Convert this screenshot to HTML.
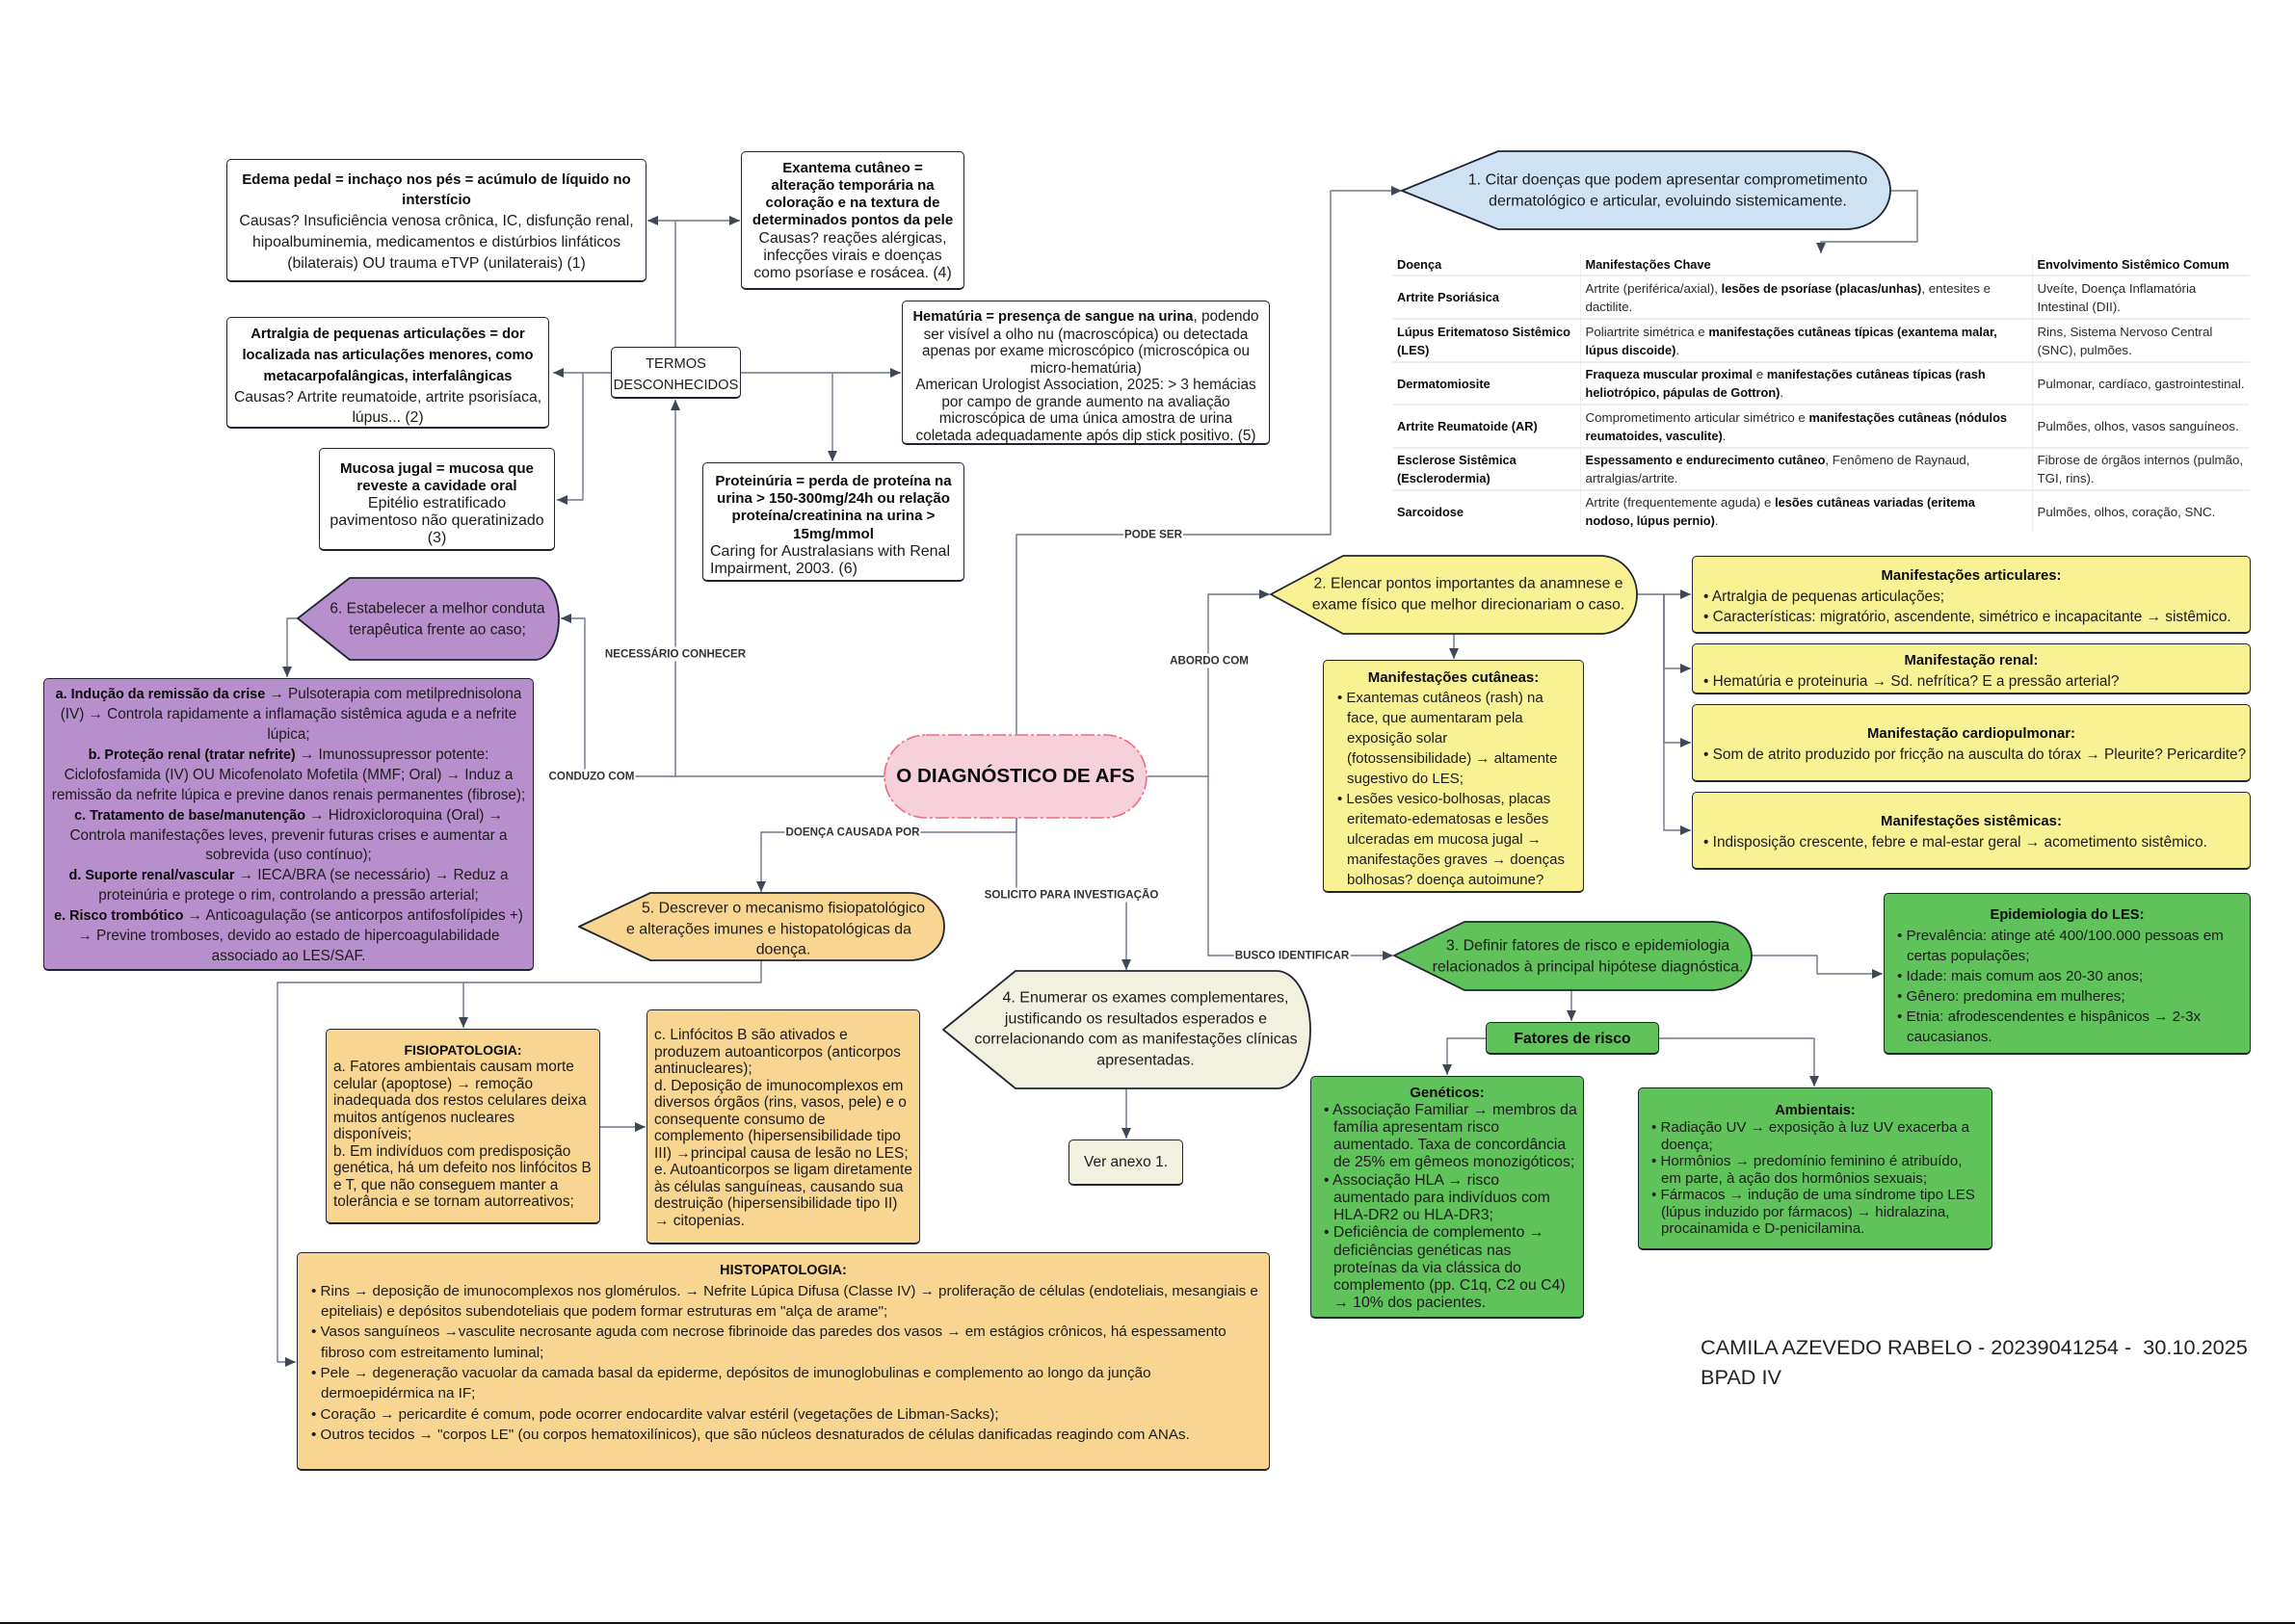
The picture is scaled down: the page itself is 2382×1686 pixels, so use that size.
<!DOCTYPE html>
<html lang="pt"><head><meta charset="utf-8"><title>O diagnóstico de AFS</title>
<style>
html,body{margin:0;padding:0;background:#fff}
#p{position:relative;width:2382px;height:1686px;overflow:hidden;background:#fff;font-family:"Liberation Sans",sans-serif;color:#1c1c1c}
svg{position:absolute;left:0;top:0}
.b{position:absolute;box-sizing:border-box;border:1.5px solid #1f2430;border-bottom-width:2.5px;border-radius:5px;display:flex;flex-direction:column;justify-content:center;white-space:nowrap;font-size:15.8px;line-height:21.7px;text-align:center;background:#fff}
.t{position:absolute;white-space:nowrap;text-align:center;transform:translate(-50%,-50%);font-size:16px;line-height:21.7px}
.t span{position:relative}
.l{position:absolute;white-space:nowrap;transform:translate(-50%,-50%);background:#fff;font-weight:bold;font-size:11.6px;line-height:15px;color:#333;padding:0 1px}
.y{background:#f9f295}.o{background:#f8d591}.g{background:#5fc25a}.v{background:#b78fcc}.e{background:#f2f1df}
.li{text-align:left;padding-left:10px;text-indent:-10px}
.ll{text-align:left}
b{font-weight:bold;color:#0c0c0c}
table{position:absolute;left:1445px;top:263px;width:890px;border-collapse:collapse;table-layout:fixed;font-size:13.3px;line-height:19px;color:#2a2a2a}
td{padding:0 0 0 5px;border-bottom:2.5px solid #eee;border-right:1px solid #eee;white-space:nowrap;vertical-align:middle}
td b{font-size:12.8px}
td:last-child{border-right:none}
tr:last-child td{border-bottom:none}
</style></head><body><div id="p">
<svg width="2382" height="1686" viewBox="0 0 2382 1686">
<defs><marker id="a" markerUnits="userSpaceOnUse" markerWidth="12" markerHeight="12" refX="11" refY="6" orient="auto"><path d="M0 1L11 6L0 11Z" fill="#3f4656"/></marker></defs>
<g fill="none" stroke="#6f7686" stroke-width="1.4" stroke-linejoin="round">
<path d="M1055 763V555H1381V198H1455" marker-end="url(#a)"/>
<path d="M1961 198H1990V251H1890V263" marker-end="url(#a)"/>
<path d="M1191 806H1254V617H1318" marker-end="url(#a)"/>
<path d="M1254 806V992H1446" marker-end="url(#a)"/>
<path d="M1699 617H1755" marker-end="url(#a)"/>
<path d="M1727 617V694H1755" marker-end="url(#a)"/>
<path d="M1727 617V771H1755" marker-end="url(#a)"/>
<path d="M1727 617V862H1755" marker-end="url(#a)"/>
<path d="M1509 658V684" marker-end="url(#a)"/>
<path d="M1818 992H1886V1011H1954" marker-end="url(#a)"/>
<path d="M1631 1028V1060" marker-end="url(#a)"/>
<path d="M1542 1078H1502V1116" marker-end="url(#a)"/>
<path d="M1722 1078H1883V1128" marker-end="url(#a)"/>
<path d="M1055 849V929H1169V1007" marker-end="url(#a)"/>
<path d="M1169 1130V1182" marker-end="url(#a)"/>
<path d="M1055 849V864H790V926" marker-end="url(#a)"/>
<path d="M790 997V1020H288V1414H307" marker-end="url(#a)"/>
<path d="M481 1020V1067" marker-end="url(#a)"/>
<path d="M623 1170H670" marker-end="url(#a)"/>
<path d="M918 806H607V642H582" marker-end="url(#a)"/>
<path d="M701 806V415" marker-end="url(#a)"/>
<path d="M701 360V229H672" marker-end="url(#a)"/>
<path d="M701 229H768" marker-end="url(#a)"/>
<path d="M634 387H574" marker-end="url(#a)"/>
<path d="M605 387V519H578" marker-end="url(#a)"/>
<path d="M769 387H935" marker-end="url(#a)"/>
<path d="M864 387V479" marker-end="url(#a)"/>
<path d="M309 642H298V703" marker-end="url(#a)"/>
</g>
<g stroke="#1f2430" stroke-width="1.8" stroke-linejoin="round">
<path d="M1455 198L1555 157H1916A46 40.5 0 0 1 1916 238H1555Z" fill="#cfe2f3"/>
<path d="M1319 617L1394 577H1661A38 40.5 0 0 1 1661 658H1394Z" fill="#f9f295"/>
<path d="M1447 992L1520 957H1776A42 35.5 0 0 1 1776 1028H1520Z" fill="#5fc25a"/>
<path d="M979 1069L1054 1008H1325A35 61 0 0 1 1325 1130H1054Z" fill="#f2f1df"/>
<path d="M601 962L675 927H944A36 35 0 0 1 944 997H675Z" fill="#f8d591"/>
<path d="M309 642L363 600H555A25 42.5 0 0 1 555 685H363Z" fill="#b78fcc"/>
</g>
<rect x="918" y="763" width="272" height="86" rx="43" fill="#f6d0da" stroke="#ee6a7e" stroke-width="1.6" stroke-dasharray="14 3 3 3"/>
<rect x="0" y="1684" width="2382" height="2" fill="#111"/>
</svg>

<div class="b" style="left:235px;top:165px;width:436px;height:128px;padding-top:3px"><div><b style="font-size:15px">Edema pedal = inchaço nos pés = acúmulo de líquido no<br>interstício</b><br>Causas? Insuficiência venosa crônica, IC, disfunção renal,<br>hipoalbuminemia, medicamentos e distúrbios linfáticos<br>(bilaterais) OU trauma eTVP (unilaterais) (1)</div></div>
<div class="b" style="left:769px;top:157px;width:232px;height:144px;line-height:18.2px;padding-top:2px"><div><b style="font-size:15px">Exantema cutâneo =<br>alteração temporária na<br>coloração e na textura de<br>determinados pontos da pele</b><br>Causas? reações alérgicas,<br>infecções virais e doenças<br>como psoríase e rosácea. (4)</div></div>
<div class="b" style="left:235px;top:329px;width:335px;height:116px;padding-top:6px;line-height:21px;font-size:15.7px"><div><b style="font-size:14.7px">Artralgia de pequenas articulações = dor<br>localizada nas articulações menores, como<br>metacarpofalângicas, interfalângicas</b><br>Causas? Artrite reumatoide, artrite psorisíaca,<br>lúpus... (2)</div></div>
<div class="b" style="left:634px;top:360px;width:135px;height:54px;font-size:14.7px;line-height:22.3px;padding-top:5px"><div>TERMOS<br>DESCONHECIDOS</div></div>
<div class="b" style="left:936px;top:312px;width:382px;height:150px;line-height:17.5px;font-size:15.3px;padding-top:8px"><div><b style="font-size:14.7px">Hematúria = presença de sangue na urina</b>, podendo<br>ser visível a olho nu (macroscópica) ou detectada<br>apenas por exame microscópico (microscópica ou<br>micro-hematúria)<br>American Urologist Association, 2025: &gt; 3 hemácias<br>por campo de grande aumento na avaliação<br>microscópica de uma única amostra de urina<br>coletada adequadamente após dip stick positivo. (5)</div></div>
<div class="b" style="left:331px;top:465px;width:245px;height:107px;line-height:18px;font-size:16px;padding-top:10px"><div><b style="font-size:15.1px">Mucosa jugal = mucosa que<br>reveste a cavidade oral</b><br>Epitélio estratificado<br>pavimentoso não queratinizado<br>(3)</div></div>
<div class="b" style="left:729px;top:480px;width:272px;height:124px;line-height:18.2px;font-size:16px;padding-top:8px"><div><b style="font-size:15.1px">Proteinúria = perda de proteína na<br>urina &gt; 150-300mg/24h ou relação<br>proteína/creatinina na urina &gt;<br>15mg/mmol</b><div class="ll" style="padding-left:7px">Caring for Australasians with Renal<br>Impairment, 2003. (6)</div></div></div>

<div class="t" style="left:1731px;top:198px">1. Citar doenças que podem apresentar comprometimento<br>dermatológico e articular, evoluindo sistemicamente.</div>
<div class="t" style="left:1524px;top:617px;font-size:15.7px">2. Elencar pontos importantes da anamnese e<br>exame físico que melhor direcionariam o caso.</div>
<div class="t" style="left:1648px;top:993px">3. Definir fatores de risco e epidemiologia<br>relacionados à principal hipótese diagnóstica.</div>
<div class="t" style="left:1183px;top:1069px"><span style="left:6px">4. Enumerar os exames complementares,</span><br><span style="left:-4px">justificando os resultados esperados e</span><br><span style="left:-4px">correlacionando com as manifestações clínicas</span><br><span style="left:6px">apresentadas.</span></div>
<div class="t" style="left:813px;top:965px;font-size:15.9px">5. Descrever o mecanismo fisiopatológico<br><span style="left:-15px">e alterações imunes e histopatológicas da</span><br>doença.</div>
<div class="t" style="left:454px;top:643px;font-size:15.5px">6. Estabelecer a melhor conduta<br>terapêutica frente ao caso;</div>
<div class="t" style="left:1054px;top:806px;font-size:20.6px;font-weight:bold;color:#0c0c0c;line-height:26px">O DIAGNÓSTICO DE AFS</div>

<table><colgroup><col style="width:195px"><col style="width:469px"><col style="width:226px"></colgroup>
<tr style="height:23px"><td><b>Doença</b></td><td><b>Manifestações Chave</b></td><td><b>Envolvimento Sistêmico Comum</b></td></tr>
<tr style="height:45px"><td><b>Artrite Psoriásica</b></td><td>Artrite (periférica/axial), <b>lesões de psoríase (placas/unhas)</b>, entesites e<br>dactilite.</td><td>Uveíte, Doença Inflamatória<br>Intestinal (DII).</td></tr>
<tr style="height:45px"><td><b>Lúpus Eritematoso Sistêmico<br>(LES)</b></td><td>Poliartrite simétrica e <b>manifestações cutâneas típicas (exantema malar,<br>lúpus discoide)</b>.</td><td>Rins, Sistema Nervoso Central<br>(SNC), pulmões.</td></tr>
<tr style="height:44px"><td><b>Dermatomiosite</b></td><td><b>Fraqueza muscular proximal</b> e <b>manifestações cutâneas típicas (rash<br>heliotrópico, pápulas de Gottron)</b>.</td><td>Pulmonar, cardíaco, gastrointestinal.</td></tr>
<tr style="height:45px"><td><b>Artrite Reumatoide (AR)</b></td><td>Comprometimento articular simétrico e <b>manifestações cutâneas (nódulos<br>reumatoides, vasculite)</b>.</td><td>Pulmões, olhos, vasos sanguíneos.</td></tr>
<tr style="height:44px"><td><b>Esclerose Sistêmica<br>(Esclerodermia)</b></td><td><b>Espessamento e endurecimento cutâneo</b>, Fenômeno de Raynaud,<br>artralgias/artrite.</td><td>Fibrose de órgãos internos (pulmão,<br>TGI, rins).</td></tr>
<tr style="height:43px"><td><b>Sarcoidose</b></td><td>Artrite (frequentemente aguda) e <b>lesões cutâneas variadas (eritema<br>nodoso, lúpus pernio)</b>.</td><td>Pulmões, olhos, coração, SNC.</td></tr>
</table>

<div class="b v" style="left:45px;top:704px;width:509px;height:304px;font-size:15.3px;line-height:20.9px;padding-top:4px"><div><b style="font-size:14.4px">a. Indução da remissão da crise</b> → Pulsoterapia com metilprednisolona<br>(IV) → Controla rapidamente a inflamação sistêmica aguda e a nefrite<br>lúpica;<br><b style="font-size:14.4px">b. Proteção renal (tratar nefrite)</b> → Imunossupressor potente:<br>Ciclofosfamida (IV) OU Micofenolato Mofetila (MMF; Oral) → Induz a<br>remissão da nefrite lúpica e previne danos renais permanentes (fibrose);<br><b style="font-size:14.4px">c. Tratamento de base/manutenção</b> → Hidroxicloroquina (Oral) →<br>Controla manifestações leves, prevenir futuras crises e aumentar a<br>sobrevida (uso contínuo);<br><b style="font-size:14.4px">d. Suporte renal/vascular</b> → IECA/BRA (se necessário) → Reduz a<br>proteinúria e protege o rim, controlando a pressão arterial;<br><b style="font-size:14.4px">e. Risco trombótico</b> → Anticoagulação (se anticorpos antifosfolípides +)<br>→ Previne tromboses, devido ao estado de hipercoagulabilidade<br>associado ao LES/SAF.</div></div>

<div class="b y" style="left:1756px;top:577px;width:580px;height:81px;font-size:15.4px;line-height:21px;padding-left:11px;padding-top:3px"><div style="margin-left:-11px"><b style="font-size:14.9px">Manifestações articulares:</b></div><div class="li">• Artralgia de pequenas articulações;</div><div class="li">• Características: migratório, ascendente, simétrico e incapacitante → sistêmico.</div></div>
<div class="b y" style="left:1756px;top:668px;width:580px;height:53px;font-size:15.4px;line-height:21px;padding-left:11px;padding-top:5px"><div style="margin-left:-11px"><b style="font-size:14.9px">Manifestação renal:</b></div><div class="li">• Hematúria e proteinuria → Sd. nefrítica? E a pressão arterial?</div></div>
<div class="b y" style="left:1756px;top:731px;width:580px;height:81px;font-size:15.4px;line-height:21px;padding-left:11px;padding-top:3px"><div style="margin-left:-11px"><b style="font-size:14.9px">Manifestação cardiopulmonar:</b></div><div class="li">• Som de atrito produzido por fricção na ausculta do tórax → Pleurite? Pericardite?</div></div>
<div class="b y" style="left:1756px;top:822px;width:580px;height:81px;font-size:15.4px;line-height:21px;padding-left:11px;padding-top:3px"><div style="margin-left:-11px"><b style="font-size:14.9px">Manifestações sistêmicas:</b></div><div class="li">• Indisposição crescente, febre e mal-estar geral → acometimento sistêmico.</div></div>
<div class="b y" style="left:1373px;top:685px;width:271px;height:242px;font-size:15px;line-height:21px;padding-left:14px;padding-top:5px"><div style="margin-left:-14px"><b>Manifestações cutâneas:</b></div><div class="li">• Exantemas cutâneos (rash) na<br>face, que aumentaram pela<br>exposição solar<br>(fotossensibilidade) → altamente<br>sugestivo do LES;</div><div class="li">• Lesões vesico-bolhosas, placas<br>eritemato-edematosas e lesões<br>ulceradas em mucosa jugal →<br>manifestações graves → doenças<br>bolhosas? doença autoimune?</div></div>

<div class="b g" style="left:1955px;top:927px;width:381px;height:168px;font-size:15.2px;line-height:21px;padding-left:13px;padding-top:4px"><div style="margin-left:-13px"><b style="font-size:14.7px">Epidemiologia do LES:</b></div><div class="li">• Prevalência: atinge até 400/100.000 pessoas em<br>certas populações;</div><div class="li">• Idade: mais comum aos 20-30 anos;</div><div class="li">• Gênero: predomina em mulheres;</div><div class="li">• Etnia: afrodescendentes e hispânicos → 2-3x<br>caucasianos.</div></div>
<div class="b g" style="left:1542px;top:1061px;width:180px;height:34px;font-size:15.7px;padding-top:2px"><div><b>Fatores de risco</b></div></div>
<div class="b g" style="left:1360px;top:1117px;width:284px;height:252px;font-size:15.8px;line-height:18.2px;padding-left:13px;padding-top:3px"><div style="margin-left:-13px"><b style="font-size:15px">Genéticos:</b></div><div class="li">• Associação Familiar → membros da<br>família apresentam risco<br>aumentado. Taxa de concordância<br>de 25% em gêmeos monozigóticos;</div><div class="li">• Associação HLA → risco<br>aumentado para indivíduos com<br>HLA-DR2 ou HLA-DR3;</div><div class="li">• Deficiência de complemento →<br>deficiências genéticas nas<br>proteínas da via clássica do<br>complemento (pp. C1q, C2 ou C4)<br>→ 10% dos pacientes.</div></div>
<div class="b g" style="left:1700px;top:1129px;width:368px;height:169px;font-size:15.1px;line-height:17.5px;padding-left:13px;padding-top:2px"><div style="margin-left:-13px"><b style="font-size:14.6px">Ambientais:</b></div><div class="li">• Radiação UV → exposição à luz UV exacerba a<br>doença;</div><div class="li">• Hormônios → predomínio feminino é atribuído,<br>em parte, à ação dos hormônios sexuais;</div><div class="li">• Fármacos → indução de uma síndrome tipo LES<br>(lúpus induzido por fármacos) → hidralazina,<br>procainamida e D-penicilamina.</div></div>

<div class="b e" style="left:1109px;top:1183px;width:119px;height:48px;font-size:15.5px"><div>Ver anexo 1.</div></div>
<div class="b o" style="left:338px;top:1068px;width:285px;height:203px;font-size:15.4px;line-height:17.5px;padding-left:7px"><div style="margin-left:-7px"><b style="font-size:14px">FISIOPATOLOGIA:</b></div><div class="ll">a. Fatores ambientais causam morte<br>celular (apoptose) → remoção<br>inadequada dos restos celulares deixa<br>muitos antígenos nucleares<br>disponíveis;<br>b. Em indivíduos com predisposição<br>genética, há um defeito nos linfócitos B<br>e T, que não conseguem manter a<br>tolerância e se tornam autorreativos;</div></div>
<div class="b o" style="left:671px;top:1048px;width:284px;height:244px;font-size:15.5px;line-height:17.5px;padding-left:7px;padding-top:3px"><div class="ll">c. Linfócitos B são ativados e<br>produzem autoanticorpos (anticorpos<br>antinucleares);<br>d. Deposição de imunocomplexos em<br>diversos órgãos (rins, vasos, pele) e o<br>consequente consumo de<br>complemento (hipersensibilidade tipo<br>III) →principal causa de lesão no LES;<br>e. Autoanticorpos se ligam diretamente<br>às células sanguíneas, causando sua<br>destruição (hipersensibilidade tipo II)<br>→ citopenias.</div></div>
<div class="b o" style="left:308px;top:1300px;width:1010px;height:227px;font-size:15.2px;line-height:21.3px;padding-left:14px;padding-top:3px"><div style="margin-left:-14px"><b style="font-size:14.4px">HISTOPATOLOGIA:</b></div><div class="li">• Rins → deposição de imunocomplexos nos glomérulos. → Nefrite Lúpica Difusa (Classe IV) → proliferação de células (endoteliais, mesangiais e<br>epiteliais) e depósitos subendoteliais que podem formar estruturas em "alça de arame";</div><div class="li">• Vasos sanguíneos →vasculite necrosante aguda com necrose fibrinoide das paredes dos vasos → em estágios crônicos, há espessamento<br>fibroso com estreitamento luminal;</div><div class="li">• Pele → degeneração vacuolar da camada basal da epiderme, depósitos de imunoglobulinas e complemento ao longo da junção<br>dermoepidérmica na IF;</div><div class="li">• Coração → pericardite é comum, pode ocorrer endocardite valvar estéril (vegetações de Libman-Sacks);</div><div class="li">• Outros tecidos → "corpos LE" (ou corpos hematoxilínicos), que são núcleos desnaturados de células danificadas reagindo com ANAs.<br>&nbsp;</div></div>

<div class="l" style="left:1197px;top:555px">PODE SER</div>
<div class="l" style="left:701px;top:679px">NECESSÁRIO CONHECER</div>
<div class="l" style="left:1255px;top:686px">ABORDO COM</div>
<div class="l" style="left:614px;top:806px">CONDUZO COM</div>
<div class="l" style="left:885px;top:864px">DOENÇA CAUSADA POR</div>
<div class="l" style="left:1112px;top:929px">SOLICITO PARA INVESTIGAÇÃO</div>
<div class="l" style="left:1341px;top:992px">BUSCO IDENTIFICAR</div>

<div style="position:absolute;left:1765px;top:1383px;font-size:21.7px;line-height:31px;white-space:pre;color:#222">CAMILA AZEVEDO RABELO - 20239041254 -  30.10.2025
BPAD IV</div>
</div></body></html>
